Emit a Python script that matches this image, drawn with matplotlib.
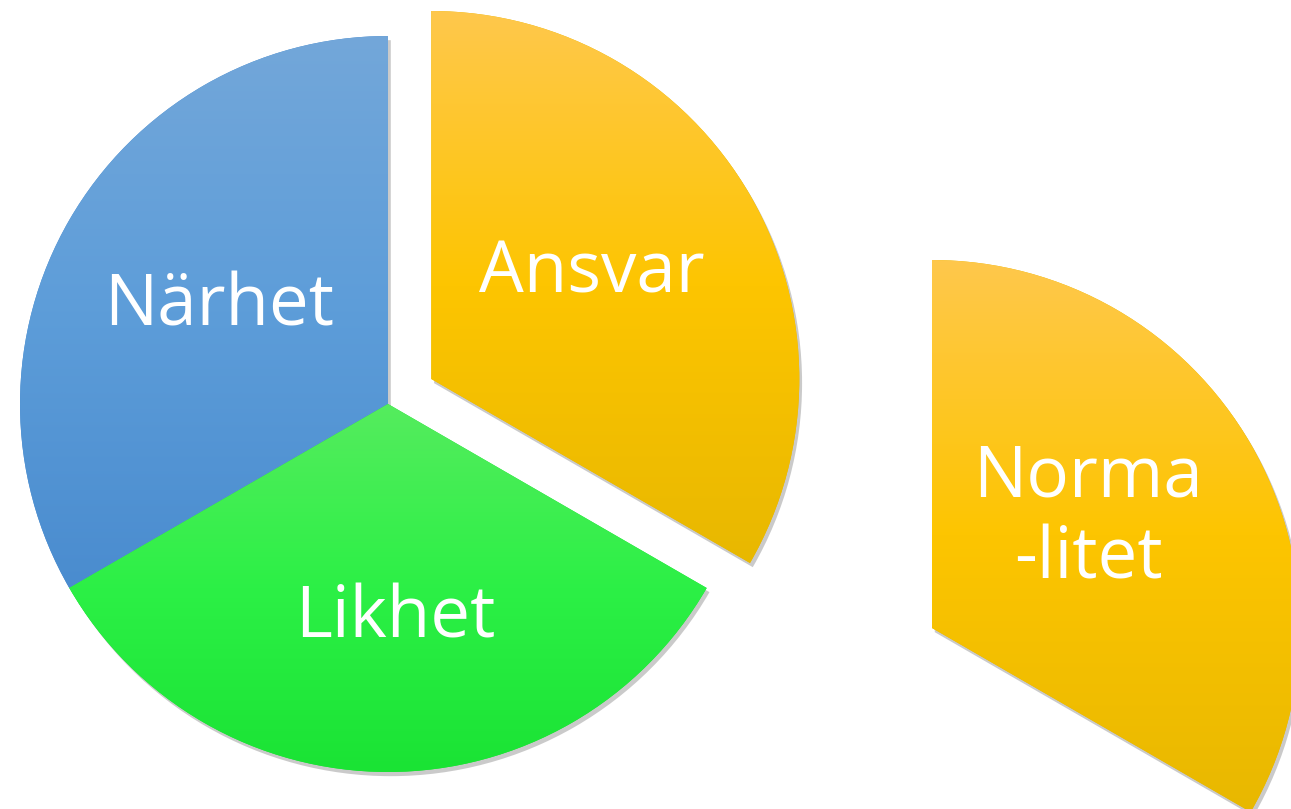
import matplotlib
matplotlib.use("Agg")
import matplotlib.pyplot as plt
import matplotlib.patheffects as pe
import numpy as np
from matplotlib.colors import LinearSegmentedColormap

# Data
categories = ["Närhet", "Likhet", "Ansvar"]
values = [1, 1, 1]
explode_vals = [0, 0, 50]
extra_label = "Norma\n-litet"

grad_colors = {
    "Närhet": ("#73a7da", "#5d9dd9", "#4a8ccf"),
    "Likhet": ("#55ec5e", "#2cf046", "#1ae334"),
    "Ansvar": ("#ffc84c", "#fdc500", "#e8b800"),
}

W, H = 1291, 809
fig = plt.figure(figsize=(W / 100, H / 100), dpi=100)
ax = fig.add_axes([0, 0, 1, 1])
ax.set_xlim(0, W)
ax.set_ylim(0, H)
ax.set_aspect("equal")
ax.axis("off")

R = 368
center = (388, 405)

shadow = [pe.SimplePatchShadow(offset=(2, -3), shadow_rgbFace="#8a8a8a", alpha=0.45), pe.Normal()]


def gradient_fill(wedge, cols, z):
    cmap = LinearSegmentedColormap.from_list("g", list(cols))
    bb = wedge.get_path().get_extents(wedge.get_transform() - ax.transData)
    grad = np.linspace(0, 1, 256).reshape(-1, 1)
    im = ax.imshow(grad, cmap=cmap, aspect="auto", origin="upper",
                   extent=[bb.x0, bb.x1, bb.y0, bb.y1], zorder=z, interpolation="bicubic")
    im.set_clip_path(wedge)
    ax.set_xlim(0, W)
    ax.set_ylim(0, H)


wedges, _ = ax.pie(values, explode=explode_vals, startangle=90, counterclock=True,
                   radius=R, center=center, frame=True,
                   colors=[grad_colors[c][-1] for c in categories],
                   wedgeprops=dict(linewidth=0))
ax.set_xlim(0, W)
ax.set_ylim(0, H)
ax.axis("off")

zorders = {"Närhet": 2, "Ansvar": 2, "Likhet": 4}
label_off = {"Närhet": (0, 0), "Likhet": (7, -20), "Ansvar": (-8, 8)}
for w, c in zip(wedges, categories):
    z = zorders[c]
    w.set_zorder(z)
    w.set_path_effects(shadow)
    gradient_fill(w, grad_colors[c], z + 0.5)
    th = np.deg2rad((w.theta1 + w.theta2) / 2)
    cx, cy = w.center
    d = 0.53 * R
    ox, oy = label_off[c]
    ax.text(cx + d * np.cos(th) + ox, cy + d * np.sin(th) + oy, c, ha="center", va="center",
            color="white", fontsize=51, family="Open Sans", zorder=10)

# Copy of the Ansvar slice moved to the right
wedges2, _ = ax.pie([values[categories.index("Ansvar")]], radius=R, center=(932, 181),
                    startangle=-30, counterclock=True, normalize=False, frame=True,
                    colors=[grad_colors["Ansvar"][-1]], wedgeprops=dict(linewidth=0))
for w in wedges2:
    w.set_theta1(-30)
    w.set_theta2(90)
    w.set_zorder(2)
    w.set_path_effects(shadow)
    gradient_fill(w, grad_colors["Ansvar"], 2.5)
    ax.text(1088, 809 - 519, extra_label, ha="center", va="center", color="white",
            fontsize=51, family="Open Sans", zorder=10, linespacing=1.2)

ax.set_xlim(0, W)
ax.set_ylim(0, H)
ax.axis("off")
fig.savefig("out.png", dpi=100)
